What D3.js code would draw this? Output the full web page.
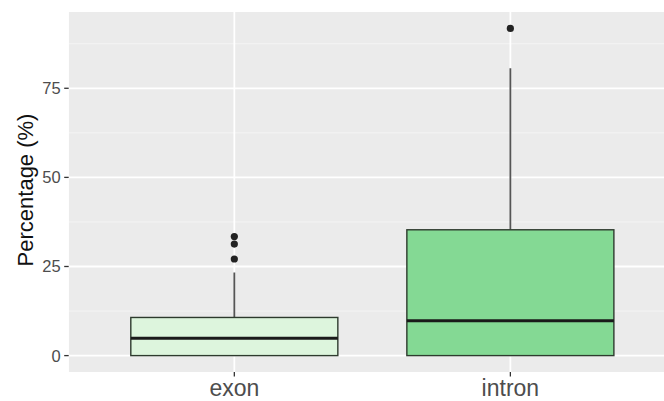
<!DOCTYPE html>
<html>
<head>
<meta charset="utf-8">
<script src="https://cdn.jsdelivr.net/npm/d3@7"></script>
<style>
  body { margin: 0; background: #fff; }
  text { font-family: "Liberation Sans", Arial, sans-serif; }
</style>
</head>
<body>
<svg id="chart" width="664" height="401"></svg>
<script>
// categories + box stats
const categories = ['exon', 'intron'];
const q1 = [0, 0];
const medians = [4.85, 9.8];
const q3 = [10.7, 35.3];
const whiskerLow = [0, 0];
const whiskerHigh = [23.3, 80.6];
const outliers = [[27.1, 31.3, 33.4], [91.8]];
const fills = ['#DDF5DD', '#84D994'];
const yTicks = [0, 25, 50, 75];
const yMinor = [12.5, 37.5, 62.5, 87.5];

const svg = d3.select('#chart');
const panel = { left: 68.7, right: 676, top: 12, bottom: 372 };

const x = d3.scalePoint(categories, [panel.left, panel.right]).padding(0.6);
const y = d3.scaleLinear([-4.6, 96.4], [panel.bottom, panel.top]);
const boxW = x.step() * 0.75;

svg.append('defs').append('clipPath').attr('id', 'clip')
  .append('rect')
  .attr('x', panel.left).attr('y', panel.top)
  .attr('width', panel.right - panel.left).attr('height', panel.bottom - panel.top);

const g = svg.append('g').attr('clip-path', 'url(#clip)');

// panel bg
g.append('rect')
  .attr('x', panel.left).attr('y', panel.top)
  .attr('width', panel.right - panel.left).attr('height', panel.bottom - panel.top)
  .attr('fill', '#EBEBEB');

// grid
g.selectAll('.minor').data(yMinor).join('line')
  .attr('x1', panel.left).attr('x2', panel.right)
  .attr('y1', d => y(d)).attr('y2', d => y(d))
  .attr('stroke', '#F4F4F4').attr('stroke-width', 1);
g.selectAll('.major').data(yTicks).join('line')
  .attr('x1', panel.left).attr('x2', panel.right)
  .attr('y1', d => y(d)).attr('y2', d => y(d))
  .attr('stroke', '#fff').attr('stroke-width', 1.8);
g.selectAll('.vmajor').data(categories).join('line')
  .attr('x1', d => x(d)).attr('x2', d => x(d))
  .attr('y1', panel.top).attr('y2', panel.bottom)
  .attr('stroke', '#fff').attr('stroke-width', 1.8);

// boxes
const boxes = g.selectAll('.box').data(categories).join('g').attr('class', 'box');

boxes.append('line')
  .attr('x1', d => x(d)).attr('x2', d => x(d))
  .attr('y1', (d, i) => y(q3[i])).attr('y2', (d, i) => y(whiskerHigh[i]))
  .attr('stroke', '#555').attr('stroke-width', 1.8);
boxes.append('line')
  .attr('x1', d => x(d)).attr('x2', d => x(d))
  .attr('y1', (d, i) => y(q1[i])).attr('y2', (d, i) => y(whiskerLow[i]))
  .attr('stroke', '#555').attr('stroke-width', 1.8);

boxes.append('rect')
  .attr('x', d => x(d) - boxW / 2)
  .attr('width', boxW)
  .attr('y', (d, i) => y(q3[i]))
  .attr('height', (d, i) => y(q1[i]) - y(q3[i]))
  .attr('fill', (d, i) => fills[i])
  .attr('stroke', '#2E3B2E').attr('stroke-width', 1.4);

boxes.append('line')
  .attr('x1', d => x(d) - boxW / 2).attr('x2', d => x(d) + boxW / 2)
  .attr('y1', (d, i) => y(medians[i])).attr('y2', (d, i) => y(medians[i]))
  .attr('stroke', '#1A1A1A').attr('stroke-width', 3);

boxes.each(function(d, i) {
  d3.select(this).selectAll('circle').data(outliers[i]).join('circle')
    .attr('cx', x(d)).attr('cy', v => y(v)).attr('r', 3.6)
    .attr('fill', '#222');
});

// y axis
const yAxis = svg.append('g');
yAxis.selectAll('line').data(yTicks).join('line')
  .attr('x1', panel.left - 4.5).attr('x2', panel.left)
  .attr('y1', d => y(d)).attr('y2', d => y(d))
  .attr('stroke', '#333').attr('stroke-width', 1.3);
yAxis.selectAll('text').data(yTicks).join('text')
  .attr('x', panel.left - 8).attr('y', d => y(d))
  .attr('dy', '0.36em').attr('text-anchor', 'end')
  .attr('font-size', 16.5).attr('fill', '#4D4D4D')
  .text(d => d);

// x axis
const xAxis = svg.append('g');
xAxis.selectAll('line').data(categories).join('line')
  .attr('x1', d => x(d)).attr('x2', d => x(d))
  .attr('y1', panel.bottom).attr('y2', panel.bottom + 4.5)
  .attr('stroke', '#333').attr('stroke-width', 1.3);
xAxis.selectAll('text').data(categories).join('text')
  .attr('x', d => x(d)).attr('y', panel.bottom + 24)
  .attr('text-anchor', 'middle')
  .attr('font-size', 23).attr('fill', '#4D4D4D')
  .text(d => d);

svg.append('text')
  .attr('transform', 'translate(33, 190) rotate(-90)')
  .attr('text-anchor', 'middle')
  .attr('font-size', 22).attr('fill', '#111')
  .text('Percentage (%)');
</script>
</body>
</html>
